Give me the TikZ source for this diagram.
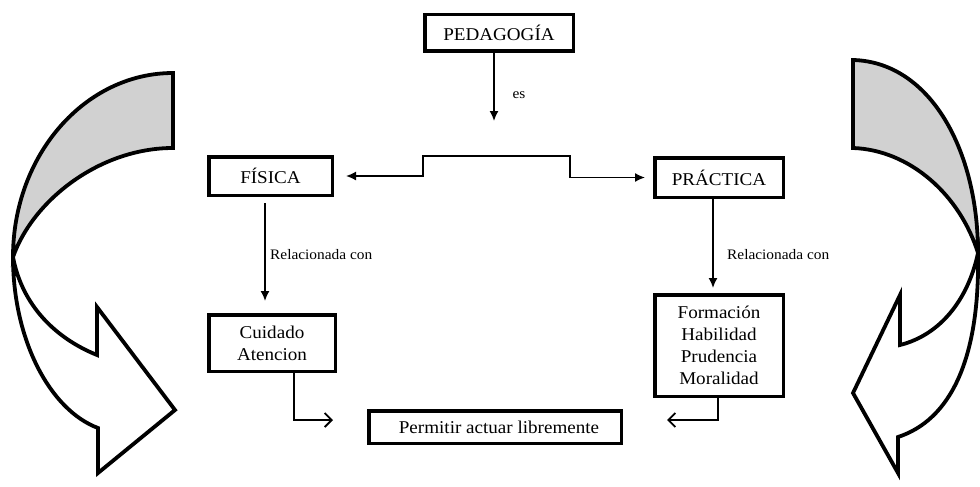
\documentclass[tikz,border=0pt]{standalone}
\usepackage{fontspec}
\setmainfont{Liberation Serif}[FakeStretch=1.06]
\usetikzlibrary{arrows.meta}
\begin{document}
\begin{tikzpicture}[x=1pt,y=-1pt,
  box/.style={draw, line width=3.5pt, inner sep=0pt, align=center,
    font=\fontsize{18}{22}\selectfont},
  lbl/.style={font=\fontsize{14.5}{16}\selectfont, inner sep=1pt},
  arr/.style={line width=1.6pt, -{Latex[length=10pt,width=9pt]}},
  oarr/.style={line width=1.8pt, -{Straight Barb[length=7pt,width=14pt]}},
  band/.style={line width=3.8pt, line join=miter, draw=black},
  backside/.style={band, fill=black!18},
  frontside/.style={band, fill=white}
]
\useasboundingbox (0,0) rectangle (980,487);

% concept boxes
\node[box, minimum width=148.5pt, minimum height=36.5pt] (ped) at (499,33) {PEDAGOGÍA};
\node[box, minimum width=123.5pt, minimum height=38.5pt] (fis) at (270.5,176) {FÍSICA};
\node[box, minimum width=128.5pt, minimum height=39.5pt] (pra) at (719,177.5) {PRÁCTICA};
\node[box, minimum width=126.5pt, minimum height=56.5pt] (cui) at (272,343) {Cuidado\\Atencion};
\node[box, minimum width=128.5pt, minimum height=101.5pt] (for) at (719,345.5) {Formación\\Habilidad\\Prudencia\\Moralidad};
\node[box, minimum width=252.5pt, minimum height=32.5pt] (per) at (495,427) {\hspace{8pt}Permitir actuar libremente};

% link labels
\node[lbl] (es) at (519,95) {es};
\node[lbl, anchor=west] (rel1) at (269,255) {Relacionada con};
\node[lbl, anchor=west] (rel2) at (726,255) {Relacionada con};

% route points
\coordinate (esend) at (494,121);
\coordinate (mid) at (497,156);
\coordinate (bl) at (423,156);
\coordinate (br) at (570,156);
\coordinate (fdown) at (265,203);
\coordinate (pdown) at (713,199);
\coordinate (cturn) at (294,420);
\coordinate (cend) at (333,420);
\coordinate (fturn) at (718,420);
\coordinate (fend) at (667,420);

% connectors
\draw[arr] (ped.south -| esend) -- (esend);
\draw[arr, shorten >=12pt] (mid) -- (bl) |- (fis.east);
\draw[arr, shorten >=8pt] (mid) -- (br) |- (pra.west);
\draw[arr, shorten >=12pt] (fdown) -- (fdown |- cui.north);
\draw[arr, shorten >=5pt] (pdown) -- (pdown |- for.north);
\draw[oarr] (cui.south -| cturn) -- (cturn) -- (cend);
\draw[oarr] (for.south -| fturn) -- (fturn) -- (fend);

% left curved arrow: shaded back, then white front with head
\draw[backside] (173,73) .. controls (85,73) and (13,155) .. (13,257)
  .. controls (33,200) and (100,148) .. (173,148) -- cycle;
\draw[frontside] (13,257) .. controls (13,340) and (50,410) .. (98,428)
  -- (98,473) -- (175,410) -- (97,307) -- (97,355)
  .. controls (55,338) and (22,305) .. (13,257) -- cycle;

% right curved arrow: shaded back, then white front with head
\draw[backside] (853,60) .. controls (930,62) and (978,150) .. (978,253)
  .. controls (960,195) and (910,150) .. (853,148) -- cycle;
\draw[frontside] (978,253) .. controls (968,300) and (940,335) .. (900,345)
  -- (900,295) -- (853,393) -- (898,473) -- (898,437)
  .. controls (950,420) and (980,360) .. (978,253) -- cycle;
\end{tikzpicture}
\end{document}
